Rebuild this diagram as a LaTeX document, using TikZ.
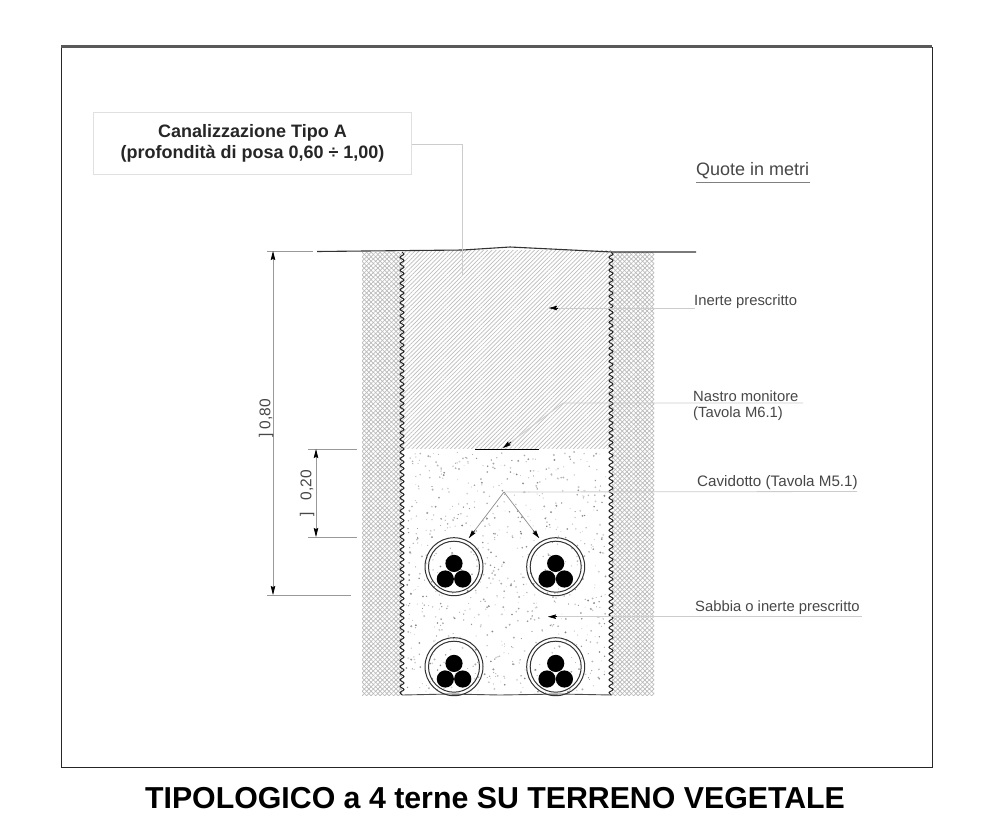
\documentclass[tikz,border=0pt]{standalone}
\usepackage{fontspec}
\setmainfont{Liberation Sans}
\usetikzlibrary{arrows.meta,patterns.meta,decorations.pathmorphing}
\tikzset{
  leader/.style={draw=black!20,line width=.8pt},
  dimline/.style={draw=black!40,line width=.7pt},
  tip/.style={-{Stealth[length=8pt,width=4.5pt,inset=1pt]},black,line width=.7pt},
  lbl/.style={font=\fontsize{14.8}{17}\selectfont,text=black!72,inner sep=0pt,anchor=west},
  dimtxt/.style={font=\fontsize{15.5}{17}\selectfont,text=black!72,inner sep=0pt,rotate=90},
  titlebox/.style={draw=black!12,line width=.8pt,fill=white,minimum width=318pt,minimum height=62pt,align=center,
     font=\fontsize{18}{21}\selectfont\bfseries,text=black!85,inner sep=0pt},
  wavy/.style={draw=black!85,line width=1pt,decorate,decoration={snake,segment length=6.5pt,amplitude=2pt}},
  soil/.style={pattern={Lines[angle=45,distance=3.2pt,line width=.7pt]},pattern color=black!27},
  soiltwo/.style={pattern={Lines[angle=-45,distance=3.2pt,line width=.7pt]},pattern color=black!27},
  inert/.style={pattern={Lines[angle=45,distance=3pt,line width=.7pt]},pattern color=black!26},
  ring/.style={draw=black!80,line width=1pt},
}
\newcommand{\cablegroup}[2]{%
  \draw[ring] (#1,#2) ellipse (29 and 29);
  \draw[ring] (#1,#2) ellipse (25.5 and 25.5);
  \fill (#1,#2-3.3) circle (8.6);
  \fill (#1-8.7,#2+12.3) circle (8.6);
  \fill (#1+8.7,#2+12.3) circle (8.6);
}
\begin{document}
\begin{tikzpicture}[x=1pt,y=-1pt]
\useasboundingbox (0,0) rectangle (992,827);
\fill[white] (0,0) rectangle (992,827);
% frame
\draw[black!85,line width=1pt] (61,47) rectangle (932,767);
\draw[black!65,line width=2.8pt] (61,46.5) -- (932,46.5);
% soil
\foreach \xa/\xb in {362/402,612/654}{
  \path[soil] (\xa,252) rectangle (\xb,695);
  \path[soiltwo] (\xa,252) rectangle (\xb,695);
}
% trench fill
\path[inert] (402,250) rectangle (612,449);
\fill[white] (404,449) rectangle (610,695);
\pgfmathsetseed{4242}
\foreach \i in {1,...,800}{
  \pgfmathsetmacro{\px}{406+200*rnd}
  \pgfmathsetmacro{\py}{452+241*rnd}
  \pgfmathsetmacro{\pr}{.4+.7*rnd}
  \pgfmathsetmacro{\pg}{15+35*rnd}
  \fill[black!\pg] (\px,\py) circle (\pr);
}
% trench walls
\draw[wavy] (402,252) -- (402,695);
\draw[wavy] (611,252) -- (611,695);
\draw[black!70,line width=.9pt] (402,695) -- (450,694) -- (500,695) -- (560,694) -- (612,695);
% ground line
\draw[black!80,line width=1.1pt] (317,251.5) -- (463,250) -- (510,247) -- (612,252) -- (696,252);
% cables
\cablegroup{454}{566.7}
\cablegroup{555.7}{566.7}
\cablegroup{454}{666.7}
\cablegroup{555.7}{666.7}
% tape
\draw[black,line width=1.6pt] (475,449.5) -- (539,449.5);
% title box
\node[titlebox] (tipo) at (252.5,143.5) {Canalizzazione Tipo A\\(profondità di posa 0,60 ÷ 1,00)};
\coordinate (tipoA) at (462,144);
\coordinate (tipoB) at (462,276);
\draw[leader] (tipo.east |- tipoA) -- (tipoA) -- (tipoB);
% labels
\node[lbl,font=\fontsize{18}{20}\selectfont] (quote) at (696,170.5) {Quote in metri};
\coordinate (quoteR) at (810,182);
\coordinate (quoteL) at (696,182);
\draw[draw=black!50,line width=.7pt] (quoteL) -- (quoteR);
\node[lbl] (inerte) at (694,302) {Inerte prescritto};
\coordinate (inerteT) at (549,308);
\coordinate (inerteR) at (695,308);
\draw[leader] (inerteR) -- (inerteT);
\draw[tip] (558,308) -- (inerteT);
\node[lbl] (nastro) at (693,396.5) {Nastro monitore};
\node[lbl] (tavola) at (693,414) {(Tavola M6.1)};
\coordinate (nastroR) at (803,403);
\coordinate (nastroK) at (563,403);
\coordinate (nastroT) at (503,448);
\draw[leader] (nastroR) -- (nastroK) -- (nastroT);
\draw[tip] (511,442) -- (nastroT);
\node[lbl,font=\fontsize{15.2}{17}\selectfont] (cav) at (697,483) {Cavidotto (Tavola M5.1)};
\coordinate (cavR) at (857,491.5);
\coordinate (apex) at (504,492);
\coordinate (cavL) at (469,538);
\coordinate (cavD) at (539,538);
\draw[leader] (cavR) -- (apex);
\draw[draw=black!45,line width=.7pt] (apex) -- (cavL) (apex) -- (cavD);
\draw[tip] (474.5,530.7) -- (cavL);
\draw[tip] (533.5,530.7) -- (cavD);
\node[lbl] (sab) at (695,608) {Sabbia o inerte prescritto};
\coordinate (sabR) at (862,616.7);
\coordinate (sabT) at (548,616.7);
\draw[leader] (sabR) -- (sabT);
\draw[tip] (557,616.7) -- (sabT);
% dimensions
\coordinate (dA) at (273,251);
\coordinate (dB) at (273,595);
\draw[dimline] (267,251) -- (313,251);
\draw[dimline] (267,595) -- (351,595);
\draw[dimline,{Stealth[length=9pt,width=4.5pt,inset=1pt,black]}-{Stealth[length=9pt,width=4.5pt,inset=1pt,black]}] (dA) -- (dB);
\coordinate (eA) at (316,449);
\coordinate (eB) at (316,537);
\draw[dimline] (308,449) -- (357,449);
\draw[dimline] (308,537) -- (357,537);
\draw[dimline,{Stealth[length=9pt,width=4.5pt,inset=1pt,black]}-{Stealth[length=9pt,width=4.5pt,inset=1pt,black]}] (eA) -- (eB);
\node[dimtxt] (d80) at (266,414) {0,80};
\node[dimtxt] (d80b) at (266,435) {]};
\node[dimtxt] (d20) at (307,485) {0,20};
\node[dimtxt] (d20b) at (307,514) {]};
% caption
\node[font=\fontsize{30.3}{34}\selectfont\bfseries,text=black,inner sep=0pt] (cap) at (495,798) {TIPOLOGICO a 4 terne SU TERRENO VEGETALE};
\end{tikzpicture}
\end{document}
